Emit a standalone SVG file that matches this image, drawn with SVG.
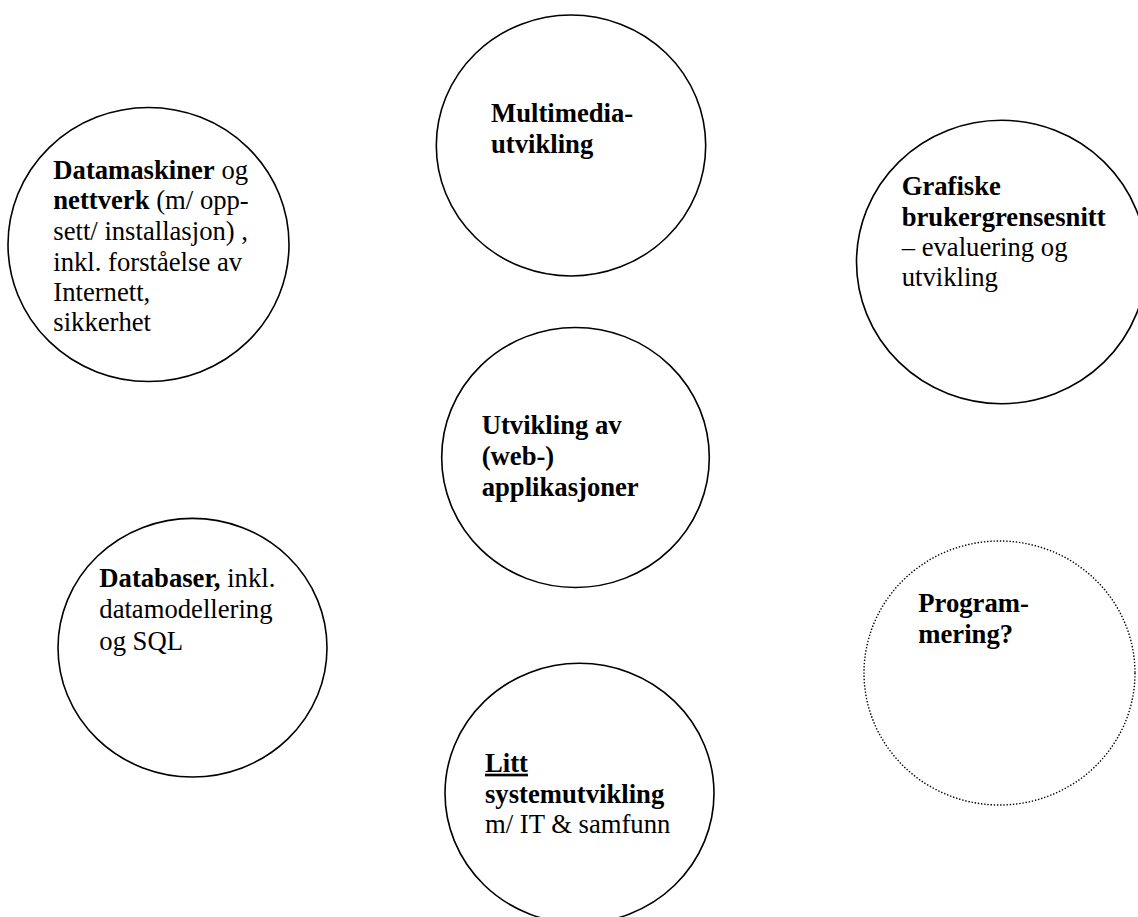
<svg xmlns="http://www.w3.org/2000/svg" width="1138" height="917" viewBox="0 0 1138 917">
<style>
.c{fill:#fff;stroke:#000;stroke-width:1.6}
.d{fill:#fff;stroke:#000;stroke-width:1.4;stroke-dasharray:1.4 1.8}
text{font-family:"Liberation Serif","Times New Roman",serif;font-size:26.67px;fill:#000}
.b{font-weight:bold}
</style>
<rect width="1138" height="917" fill="#fff"/>
<g id="connectors"></g>
<g id="n-datamaskiner">
<ellipse class="c" cx="148.5" cy="244.5" rx="140.5" ry="137"/>
<text x="53.3" y="178.5"><tspan class="b">Datamaskiner</tspan> og</text>
<text x="53.3" y="209.2"><tspan class="b">nettverk</tspan> (m/ opp-</text>
<text x="53.3" y="239.9">sett/ installasjon) ,</text>
<text x="53.3" y="270.5">inkl. forståelse av</text>
<text x="53.3" y="301">Internett,</text>
<text x="53.3" y="331">sikkerhet</text>
</g>
<g id="n-multimedia">
<ellipse class="c" cx="571" cy="145.5" rx="134.7" ry="130.5"/>
<text class="b" x="491" y="122.3">Multimedia-</text>
<text class="b" x="491" y="153.3">utvikling</text>
</g>
<g id="n-grafiske">
<ellipse class="c" cx="1001.5" cy="262" rx="145" ry="141.7"/>
<text class="b" x="901.7" y="195">Grafiske</text>
<text class="b" x="901.7" y="225.5">brukergrensesnitt</text>
<text x="901.7" y="256">– evaluering og</text>
<text x="901.7" y="286">utvikling</text>
</g>
<g id="n-utvikling">
<ellipse class="c" cx="575.5" cy="457.5" rx="133.8" ry="130"/>
<text class="b" x="481.7" y="434">Utvikling av</text>
<text class="b" x="481.7" y="465">(web-)</text>
<text class="b" x="481.7" y="495.7">applikasjoner</text>
</g>
<g id="n-databaser">
<ellipse class="c" cx="192.5" cy="647.7" rx="134.5" ry="129.3"/>
<text x="99.3" y="586.7"><tspan class="b">Databaser,</tspan> inkl.</text>
<text x="99.3" y="618.3">datamodellering</text>
<text x="99.3" y="649.5">og SQL</text>
</g>
<g id="n-programmering">
<ellipse class="d" cx="999.5" cy="673" rx="135.5" ry="132"/>
<text class="b" x="918.3" y="611.7">Program-</text>
<text class="b" x="918.3" y="642.7">mering?</text>
</g>
<g id="n-litt">
<ellipse class="c" cx="579.5" cy="793.3" rx="134.5" ry="130"/>
<text class="b" x="485" y="771.7" text-decoration="underline">Litt</text>
<text class="b" x="485" y="803">systemutvikling</text>
<text x="485" y="832.7">m/ IT &amp; samfunn</text>
</g>
</svg>
